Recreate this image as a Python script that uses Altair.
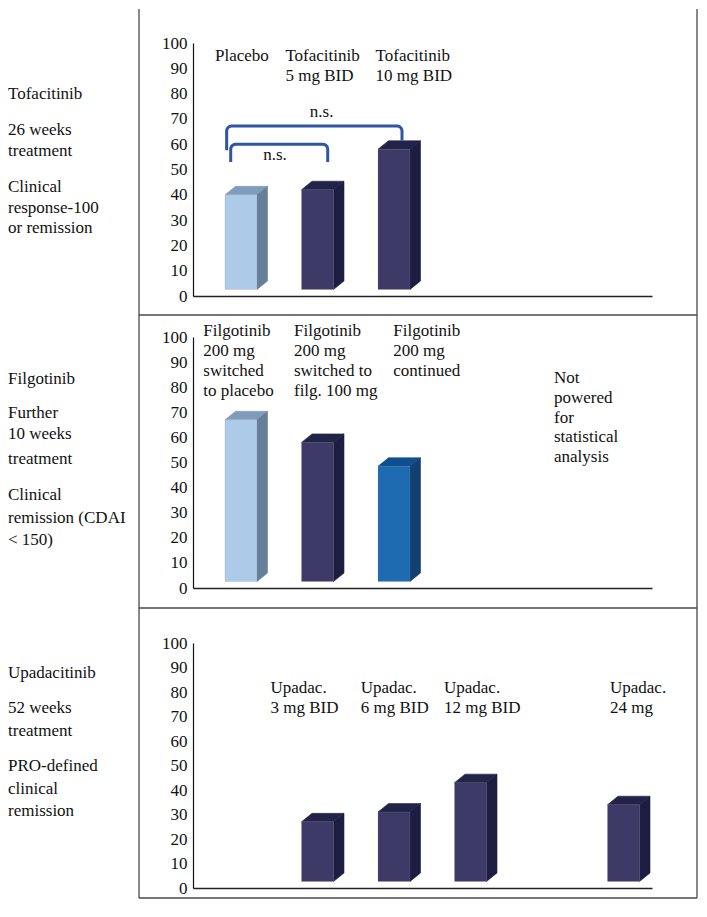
import math
import altair as alt
import pandas as pd

FONT = "Liberation Serif"
FS = 17
TXT = "#111111"

# ---------------- data ----------------
n_slots = 6
y_ticks = list(range(0, 101, 10))

tofa_slots = [1, 2, 3]
tofa_values = [40, 42, 58]
tofa_shades = ["light", "navy", "navy"]
tofa_labels = ["Placebo", "Tofacitinib\n5 mg BID", "Tofacitinib\n10 mg BID"]

filgo_slots = [1, 2, 3]
filgo_values = [67, 58, 48.5]
filgo_shades = ["light", "navy", "blue"]
filgo_labels = ["Filgotinib\n200 mg\nswitched\nto placebo",
                "Filgotinib\n200 mg\nswitched to\nfilg. 100 mg",
                "Filgotinib\n200 mg\ncontinued"]

upa_slots = [2, 3, 4, 6]
upa_values = [27, 31, 43, 34]
upa_shades = ["navy", "navy", "navy", "navy"]
upa_labels = ["Upadac.\n3 mg BID", "Upadac.\n6 mg BID", "Upadac.\n12 mg BID", "Upadac.\n24 mg"]

tofa_side = ["Tofacitinib", "26 weeks\ntreatment", "Clinical\nresponse-100\nor remission"]
filgo_side = ["Filgotinib", "Further\n10 weeks", "treatment", "Clinical\nremission (CDAI\n< 150)"]
upa_side = ["Upadacitinib", "52 weeks\ntreatment", "PRO-defined\nclinical\nremission"]

filgo_note = "Not\npowered\nfor\nstatistical\nanalysis"
ns_text = "n.s."

# ---------------- styles / layout ----------------
PALETTE = {  # front, top, side
    "light": ("#AECAE9", "#809CBB", "#687F99"),
    "navy": ("#3D3A67", "#222349", "#1C1D41"),
    "blue": ("#1F6BB2", "#0F4F90", "#143F71"),
}
BOX_W = 558            # box (panel) width
X_RANGE = [54, 513]    # axis extent inside the box
BAR_OFF_PX, BAR_W_PX = 32.0, 32.0
DEPTH_X_PX, DEPTH_Y_PX = 10.5, 8.5
BASE_PX = 6.5
LEFT_X = -131
BOX_COLOR = "#4a4a4a"
BRACKET_COLOR = "#2F55A4"


def encoders(box_h, y_range):
    xs = alt.Scale(domain=[0, n_slots], nice=False, zero=False, range=X_RANGE)
    ys = alt.Scale(domain=[0, 100], nice=False, range=y_range)
    xa = alt.Axis(labels=False, ticks=False, grid=False, title=None,
                  domainColor="#222222", domainWidth=1.5, offset=-(box_h - y_range[0]))
    ya = alt.Axis(values=y_ticks, ticks=False, grid=False, title=None,
                  labelFont=FONT, labelFontSize=FS, labelColor=TXT,
                  labelPadding=6, domainColor="#111111", domainWidth=1.2,
                  labelOverlap=False, offset=-X_RANGE[0])

    def ex():
        return alt.X("x:Q", scale=xs, axis=xa)

    def ey():
        return alt.Y("y:Q", scale=ys, axis=ya)
    return ex, ey


def text_mark(**kw):
    base = dict(font=FONT, fontSize=FS, color=TXT, align="left", baseline="alphabetic",
                lineBreak="\n", lineHeight=20)
    base.update(kw)
    return base


def panel(slots, values, shades, labels, label_x, label_y, box_h, y_range,
          side_texts, side_y, side_lh, extra_fn=None):
    ex, ey = encoders(box_h, y_range)
    ux = (X_RANGE[1] - X_RANGE[0]) / n_slots
    uy = (y_range[0] - y_range[1]) / 100.0
    off, w = BAR_OFF_PX / ux, BAR_W_PX / ux
    dx, dy = DEPTH_X_PX / ux, DEPTH_Y_PX / uy
    base = BASE_PX / uy

    fronts, faces = [], []
    for i, (s, v, sh) in enumerate(zip(slots, values, shades)):
        xl = s - 1 + off
        xr = xl + w
        front, topc, sidec = PALETTE[sh]
        fronts.append(dict(x=xl, x2=xr, y=v, y2=base, col=front))
        pid = f"t{i}"
        faces += [
            dict(pid=pid, x=xl, y=v, y2=v, col=topc),
            dict(pid=pid, x=xl + dx, y=v + dy, y2=v, col=topc),
            dict(pid=pid, x=xr, y=v + dy, y2=v, col=topc),
            dict(pid=pid, x=xr + dx, y=v + dy, y2=v + dy, col=topc),
        ]
        pid = f"s{i}"
        faces += [
            dict(pid=pid, x=xr, y=v, y2=base, col=sidec),
            dict(pid=pid, x=xr + dx, y=v + dy, y2=base + dy, col=sidec),
        ]
    fdf = pd.DataFrame(fronts)
    adf = pd.DataFrame(faces)

    faces_layer = alt.Chart(adf).mark_area(orient="vertical", opacity=1, strokeWidth=0.6).encode(
        x=ex(), y=ey(), y2="y2:Q", detail="pid:N",
        color=alt.Color("col:N", scale=None), stroke=alt.Stroke("col:N", scale=None))
    front_layer = alt.Chart(fdf).mark_rect(strokeWidth=0.6, stroke="#8a88a8", strokeOpacity=0.3).encode(
        x=ex(), x2="x2:Q", y=ey(), y2="y2:Q", color=alt.Color("col:N", scale=None))

    ldf = pd.DataFrame(dict(x=label_x, y=[label_y] * len(labels), t=labels))
    label_layer = alt.Chart(ldf).mark_text(**text_mark()).encode(x=ex(), y=ey(), text="t:N")

    layers = [faces_layer, front_layer, label_layer]

    dummy = pd.DataFrame({"k": [0]})
    for t, yy, lh in zip(side_texts, side_y, side_lh):
        layers.append(alt.Chart(dummy).mark_text(**text_mark(lineHeight=lh)).encode(
            x=alt.value(LEFT_X), y=alt.value(yy), text=alt.value(t)))

    for xx in (0, BOX_W):
        layers.append(alt.Chart(dummy).mark_rule(color=BOX_COLOR, strokeWidth=1.3).encode(
            x=alt.value(xx), y=alt.value(0), y2=alt.value(box_h)))
    layers.append(alt.Chart(dummy).mark_rule(color=BOX_COLOR, strokeWidth=1.3).encode(
        x=alt.value(0), x2=alt.value(BOX_W), y=alt.value(box_h)))

    if extra_fn is not None:
        layers.extend(extra_fn(ex, ey, ux, uy))
    return alt.layer(*layers).properties(width=BOX_W, height=box_h)


def bracket(xl, xr, ytop, ybl, ybr, rx, ry, name, n=5):
    pts = [(xl, ybl)]
    for k in range(n + 1):
        a = math.pi - (math.pi / 2) * k / n
        pts.append((xl + rx + rx * math.cos(a), ytop - ry + ry * math.sin(a)))
    for k in range(n + 1):
        a = math.pi / 2 - (math.pi / 2) * k / n
        pts.append((xr - rx + rx * math.cos(a), ytop - ry + ry * math.sin(a)))
    pts.append((xr, ybr))
    return [dict(b=name, i=i, x=p[0], y=p[1]) for i, p in enumerate(pts)]


def tofa_extra(ex, ey, ux, uy):
    rx, ry = 5 / ux, 5 / uy
    bdf = pd.DataFrame(bracket(0.44, 2.732, 67.2, 57.6, 61.5, rx, ry, "outer")
                       + bracket(0.493, 1.761, 60.0, 53.0, 53.0, rx, ry, "inner"))
    bl = alt.Chart(bdf).mark_line(color=BRACKET_COLOR, strokeWidth=3, strokeCap="butt").encode(
        x=ex(), y=ey(), detail="b:N", order="i:Q")
    nsdf = pd.DataFrame(dict(x=[1.682, 1.072], y=[70.9, 53.6], t=[ns_text, ns_text]))
    nl = alt.Chart(nsdf).mark_text(**text_mark(align="center")).encode(
        x=ex(), y=ey(), text="t:N")
    return [bl, nl]


def filgo_extra(ex, ey, ux, uy):
    notedf = pd.DataFrame(dict(x=[4.719], y=[81.6], t=[filgo_note]))
    return [alt.Chart(notedf).mark_text(**text_mark(lineHeight=19.7)).encode(
        x=ex(), y=ey(), text="t:N")]


# panel boxes in page pixels: 8-314, 314-607, 607-897
p1 = panel(tofa_slots, tofa_values, tofa_shades, tofa_labels,
           [0.288, 1.208, 2.387], 92.9, 306, [287, 34],
           tofa_side, [89.7, 126, 183], [20, 20.5, 20.5], extra_fn=tofa_extra)

p2 = panel(filgo_slots, filgo_values, filgo_shades, filgo_labels,
           [0.135, 1.32, 2.618], 100.4, 293, [273, 22],
           filgo_side, [68.7, 103, 149.3, 185], [20, 20.7, 20, 22.7], extra_fn=filgo_extra)

p3 = panel(upa_slots, upa_values, upa_shades, upa_labels,
           [1.013, 2.192, 3.281, 5.451], 79.6, 290, [280, 35],
           upa_side, [70, 105.3, 163.3], [20, 22.4, 22.5])

chart = alt.vconcat(p1, p2, p3, spacing=0, bounds="flush").properties(
    padding=0, background="white"
).configure_view(stroke=None)

chart.save("out.html", embed_options={"renderer": "svg", "actions": False})
